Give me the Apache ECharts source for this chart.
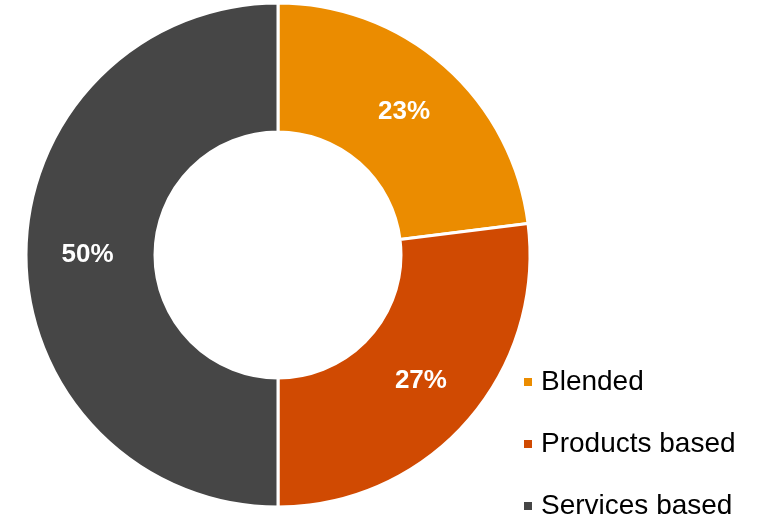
<!DOCTYPE html>
<html>
<head>
<meta charset="utf-8">
<script src="https://cdn.jsdelivr.net/npm/echarts@6/dist/echarts.min.js"></script>
<style>
html, body { margin: 0; padding: 0; background: #fff; }
#chart { width: 760px; height: 516px; }
</style>
</head>
<body>
<div id="chart"></div>
<script>
// Share of business models
const categories = ['Blended', 'Products based', 'Services based'];
const shares = [23, 27, 50];
const colors = ['#EB8C00', '#D04A02', '#464646'];

const chart = echarts.init(document.getElementById('chart'), null, { renderer: 'canvas' });

chart.setOption({
  animation: false,
  color: colors,
  legend: {
    orient: 'vertical',
    left: 522,
    top: 368,
    height: 160,
    padding: 0,
    itemWidth: 10,
    itemHeight: 10,
    itemGap: 34,
    icon: 'rect',
    textStyle: {
      fontFamily: 'Liberation Sans, Arial, sans-serif',
      fontSize: 28,
      color: '#000',
      padding: [0, 0, 0, 3]
    },
    data: categories
  },
  series: [{
    type: 'pie',
    center: [278, 255],
    radius: [123, 252],
    startAngle: 90,
    clockwise: true,
    avoidLabelOverlap: false,
    itemStyle: { borderColor: '#fff', borderWidth: 3 },
    label: {
      show: true,
      position: 'inside',
      formatter: '{c}%',
      color: '#fff',
      fontFamily: 'Liberation Sans, Arial, sans-serif',
      fontWeight: 'bold',
      fontSize: 26
    },
    labelLine: { show: false },
    emphasis: { disabled: true },
    data: categories.map((name, i) => ({ name, value: shares[i] }))
  }]
});
</script>
</body>
</html>
